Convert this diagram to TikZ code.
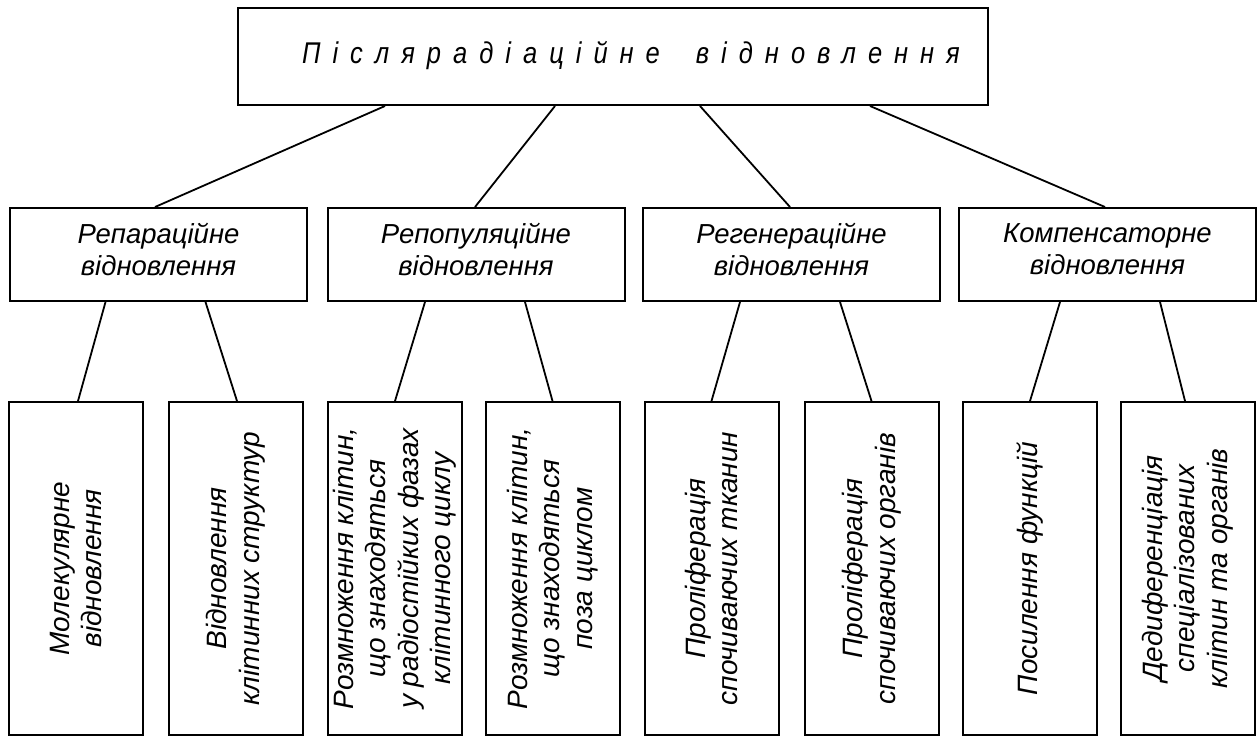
\documentclass[tikz,border=0pt]{standalone}
\usepackage{fontspec}
\setmainfont{Liberation Sans}
\newfontfamily\spacedfont[LetterSpace=40,FakeStretch=0.85]{Liberation Sans}
\begin{document}
\begin{tikzpicture}[x=1pt,y=-1pt,
  box/.style={draw, line width=2pt, inner sep=0pt},
  topbox/.style={box, minimum width=750pt, minimum height=97pt},
  midbox/.style={box, minimum width=297pt, minimum height=93pt},
  midtext/.style={align=center, inner sep=0pt,
     font=\fontsize{27.5}{32}\selectfont\itshape},
  botbox/.style={box, minimum width=134pt, minimum height=333pt},
  bottext/.style={rotate=90, align=center, inner sep=0pt,
     font=\fontsize{28}{32.5}\selectfont\itshape},
  link/.style={line width=1.8pt}]
\useasboundingbox (0,0) rectangle (1260,740);
\fill[white] (0,0) rectangle (1260,740);

\node[topbox] (top) at (613,56.5) {};
\node (toptext) at ([xshift=18pt,yshift=1pt]top.center) {\fontsize{30}{36}\spacedfont\itshape Післярадіаційне\hspace{36pt}відновлення};

\node[midbox] (m1) at (158.5,254.5) {};
\node[midbox] (m2) at (476,254.5) {};
\node[midbox] (m3) at (791.5,254.5) {};
\node[midbox] (m4) at (1107.5,254.5) {};
\node[midtext] at ([yshift=5pt]m1.center) {Репараційне\\відновлення};
\node[midtext] at ([yshift=5pt]m2.center) {Репопуляційне\\відновлення};
\node[midtext] at ([yshift=5pt]m3.center) {Регенераційне\\відновлення};
\node[midtext] at ([yshift=5pt]m4.center) {Компенсаторне\\відновлення};

\node[botbox] (b1) at (76,568.5) {};
\node[botbox] (b2) at (235.5,568.5) {};
\node[botbox] (b3) at (395,568.5) {};
\node[botbox] (b4) at (552.5,568.5) {};
\node[botbox] (b5) at (711.5,568.5) {};
\node[botbox] (b6) at (871.5,568.5) {};
\node[botbox] (b7) at (1030,568.5) {};
\node[botbox] (b8) at (1187.5,568.5) {};

\node[bottext] (t1) at (b1.center) {Молекулярне\\відновлення};
\node[bottext] (t2) at (b2.center) {Відновлення\\клітинних структур};
\node[bottext] (t3) at (b3.center) {Розмноження клітин,\\що знаходяться\\у радіостійких фазах\\клітинного циклу};
\node[bottext] (t4) at (b4.center) {Розмноження клітин,\\що знаходяться\\поза циклом};
\node[bottext] (t5) at (b5.center) {Проліферація\\спочиваючих тканин};
\node[bottext] (t6) at (b6.center) {Проліферація\\спочиваючих органів};
\node[bottext] (t7) at (b7.center) {Посилення функцій};
\node[bottext] (t8) at (b8.center) {Дедиференціація\\спеціалізованих\\клітин та органів};

\draw[link] ([xshift=-228pt]top.south) -- ([xshift=-3.5pt]m1.north);
\draw[link] ([xshift=-58pt]top.south) -- ([xshift=-1pt]m2.north);
\draw[link] ([xshift=87pt]top.south) -- ([xshift=-1.5pt]m3.north);
\draw[link] ([xshift=257pt]top.south) -- ([xshift=-2.5pt]m4.north);

\draw[link] ([xshift=-53pt]m1.south) -- ([xshift=2pt]b1.north);
\draw[link] ([xshift=47pt]m1.south) -- ([xshift=1.5pt]b2.north);
\draw[link] ([xshift=-51pt]m2.south) -- (b3.north);
\draw[link] ([xshift=49pt]m2.south) -- (b4.north);
\draw[link] ([xshift=-51.5pt]m3.south) -- (b5.north);
\draw[link] ([xshift=48.5pt]m3.south) -- (b6.north);
\draw[link] ([xshift=-47.5pt]m4.south) -- (b7.north);
\draw[link] ([xshift=52.5pt]m4.south) -- ([xshift=-2.5pt]b8.north);
\end{tikzpicture}
\end{document}
